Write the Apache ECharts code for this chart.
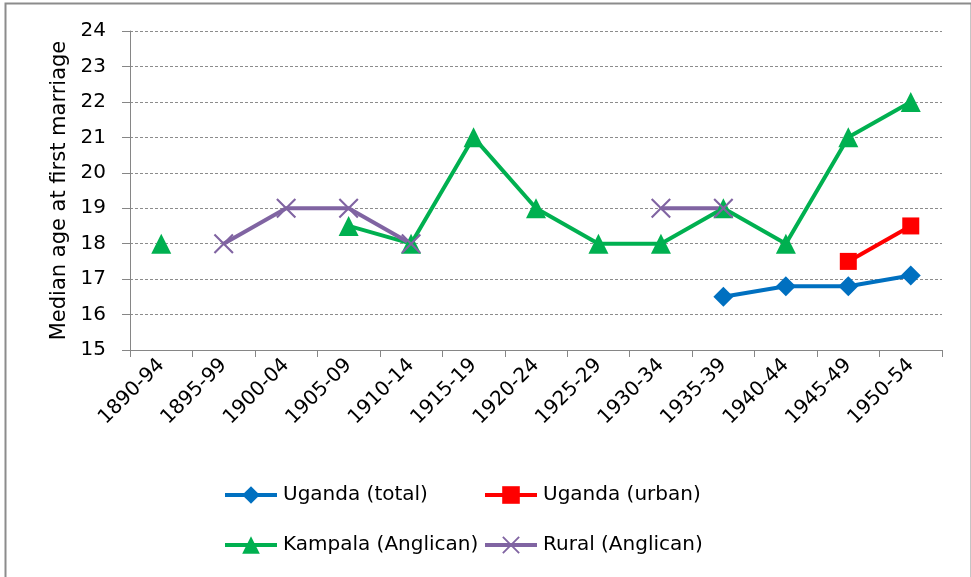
<!DOCTYPE html>
<html>
<head>
<meta charset="utf-8">
<script src="https://cdn.jsdelivr.net/npm/echarts@6/dist/echarts.min.js"></script>
<style>
  html, body { margin: 0; padding: 0; background: #fff; }
  #chart { width: 971px; height: 577px; }
</style>
</head>
<body>
<div id="chart"></div>
<script>
// Birth cohorts (5-year groups)
const periods = ['1890-94', '1895-99', '1900-04', '1905-09', '1910-14', '1915-19',
  '1920-24', '1925-29', '1930-34', '1935-39', '1940-44', '1945-49', '1950-54'];

// Median age at first marriage by source
const ugandaTotal = [null, null, null, null, null, null, null, null, null, 16.5, 16.8, 16.8, 17.1];
const ugandaUrban = [null, null, null, null, null, null, null, null, null, null, null, 17.5, 18.5];
const kampalaAnglican = [18, null, null, 18.5, 18, 21, 19, 18, 18, 19, 18, 21, 22];
const ruralAnglican = [null, 18, 19, 19, 18, null, null, null, 19, 19, null, null, null];

const yTicks = { min: 15, max: 24, step: 1 };

const FONT = 'DejaVu Sans';
const crossPath = 'path://M0,1.5L1.5,0L10,8.5L18.5,0L20,1.5L11.5,10L20,18.5L18.5,20L10,11.5L1.5,20L0,18.5L8.5,10Z';

const chart = echarts.init(document.getElementById('chart'));

function lineSeries(name, data, color, symbol, size) {
  return {
    name, type: 'line', data,
    connectNulls: false,
    symbol, symbolSize: size,
    showAllSymbol: true,
    lineStyle: { color, width: 4 },
    itemStyle: { color, borderWidth: 0 },
    emphasis: { disabled: true },
    animation: false
  };
}

function legendAt(name, left, top) {
  return {
    data: [name], left, top,
    itemWidth: 52, itemHeight: 22, itemGap: 0,
    lineStyle: { width: 4 },
    textStyle: { fontFamily: FONT, fontSize: 20, color: '#000', padding: [0, 0, 0, 1] },
    selectedMode: false
  };
}

chart.setOption({
  backgroundColor: '#fff',
  animation: false,
  graphic: [{
    type: 'rect', left: 3, top: 1,
    shape: { width: 966, height: 590 },
    style: { fill: 'none', stroke: '#8c8c8c', lineWidth: 2 },
    silent: true
  }],
  legend: [
    legendAt('Uganda (total)', 218, 480),
    legendAt('Uganda (urban)', 478, 480),
    legendAt('Kampala (Anglican)', 218, 530),
    legendAt('Rural (Anglican)', 478, 530)
  ],
  grid: { left: 130, right: 29, top: 31, bottom: 227 },
  xAxis: {
    type: 'category',
    data: periods,
    boundaryGap: true,
    axisLine: { lineStyle: { color: '#868686', width: 1 } },
    axisTick: { show: true, length: 7, alignWithLabel: false, lineStyle: { color: '#868686' } },
    axisLabel: {
      interval: 0, rotate: 45, margin: 12,
      fontFamily: FONT, fontSize: 20, color: '#000'
    }
  },
  yAxis: {
    type: 'value',
    min: yTicks.min, max: yTicks.max, interval: yTicks.step,
    name: 'Median age at first marriage',
    nameLocation: 'middle', nameGap: 57, nameRotate: 90,
    nameTextStyle: { fontFamily: FONT, fontSize: 21, color: '#000' },
    axisLine: { show: true, lineStyle: { color: '#868686', width: 1 } },
    axisTick: { show: true, length: 8, lineStyle: { color: '#868686' } },
    axisLabel: { margin: 24, fontFamily: FONT, fontSize: 20, color: '#000' },
    splitLine: { show: true, lineStyle: { color: '#8c8c8c', type: [3, 2], width: 1 } }
  },
  series: [
    lineSeries('Uganda (total)', ugandaTotal, '#0070C0', 'diamond', 20),
    lineSeries('Uganda (urban)', ugandaUrban, '#FF0000', 'rect', 17),
    lineSeries('Kampala (Anglican)', kampalaAnglican, '#00B050', 'triangle', 20),
    lineSeries('Rural (Anglican)', ruralAnglican, '#8064A2', crossPath, 20)
  ]
});
</script>
</body>
</html>
